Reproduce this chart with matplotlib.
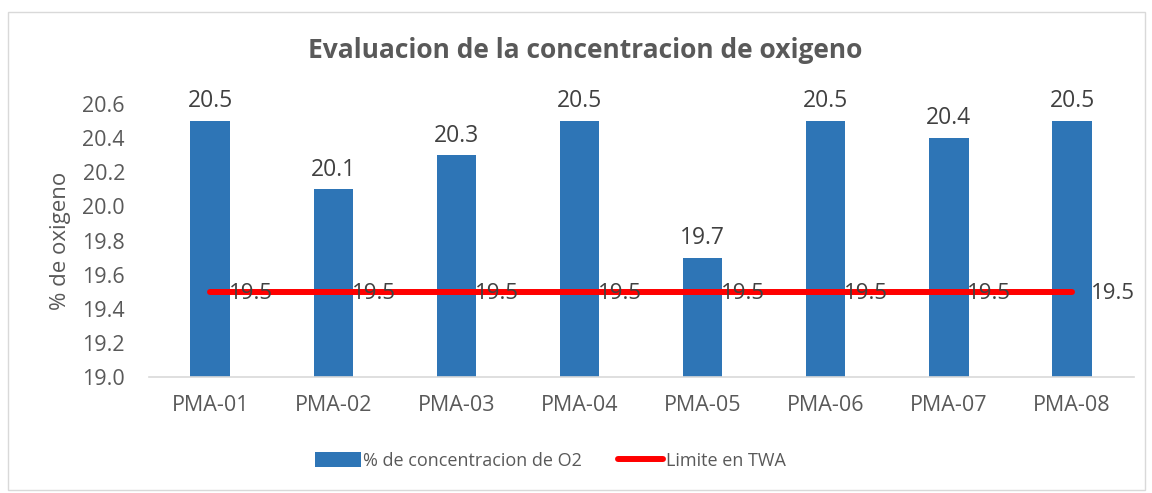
import matplotlib.pyplot as plt
from matplotlib.patches import Rectangle

categorias = ['PMA-01', 'PMA-02', 'PMA-03', 'PMA-04', 'PMA-05', 'PMA-06', 'PMA-07', 'PMA-08']
oxigeno = [20.5, 20.1, 20.3, 20.5, 19.7, 20.5, 20.4, 20.5]
limite = [19.5, 19.5, 19.5, 19.5, 19.5, 19.5, 19.5, 19.5]
yticks = [19.0, 19.2, 19.4, 19.6, 19.8, 20.0, 20.2, 20.4, 20.6]

gris = '#595959'
azul = '#2E75B6'
plt.rcParams['font.family'] = ['Open Sans', 'DejaVu Sans']

fig = plt.figure(figsize=(11.52, 4.93), dpi=100)
fig.patches.append(Rectangle((8 / 1152, 3 / 493), 1137 / 1152, 478 / 493, transform=fig.transFigure,
                             fill=False, edgecolor='#D9D9D9', linewidth=1))
ax = fig.add_axes([0.129, 0.235, 0.855, 0.554])

x = list(range(len(categorias)))
barras = ax.bar(x, oxigeno, width=0.32, color=azul, label='% de concentracion de O2', zorder=2)
linea, = ax.plot(x, limite, color='#FF0000', linewidth=4.3, solid_capstyle='round',
                 label='Limite en TWA', zorder=3)

for xi, v in zip(x, oxigeno):
    ax.text(xi, v + 0.045, f'{v:.1f}', ha='center', va='bottom', fontsize=16.5, color='#404040')
for xi, v in zip(x, limite):
    ax.text(xi + 0.15, v - 0.01, f'{v:.1f}', ha='left', va='center', fontsize=16, color='#404040', zorder=4)

ax.set_ylim(19.0, 20.6)
ax.set_xlim(-0.5, len(categorias) - 0.5)
ax.set_yticks(yticks)
ax.set_yticklabels([f'{t:.1f}' for t in yticks])
ax.set_xticks(x)
ax.set_xticklabels(categorias)
ax.tick_params(axis='both', length=0, labelsize=15.5, colors=gris)
ax.tick_params(axis='x', pad=13)
ax.tick_params(axis='y', pad=17)
for s in ['top', 'right', 'left']:
    ax.spines[s].set_visible(False)
ax.spines['bottom'].set_color('#D9D9D9')
ax.spines['bottom'].set_linewidth(1.2)

ax.set_ylabel('% de oxigeno', fontsize=16, color=gris, labelpad=8)
fig.text(0.508, 0.898, 'Evaluacion de la concentracion de oxigeno', ha='center', va='center',
         fontsize=19, fontweight='bold', color=gris)

fig.legend(handles=[barras, linea], loc='center', bbox_to_anchor=(0.478, 0.065), ncol=2, frameon=False,
           fontsize=13, labelcolor=gris, handlelength=2.5, handleheight=0.9, handletextpad=0.15,
           columnspacing=2.0)

fig.savefig('out.png', dpi=100)
